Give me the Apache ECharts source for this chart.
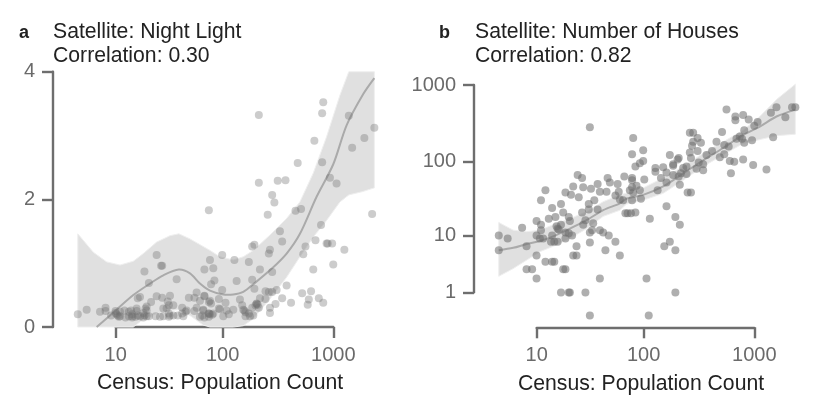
<!DOCTYPE html>
<html>
<head>
<meta charset="utf-8">
<script src="https://cdn.jsdelivr.net/npm/echarts@6/dist/echarts.min.js"></script>
<style>
  html, body { margin: 0; padding: 0; background: #fff; }
  #chart { width: 830px; height: 415px; }
</style>
</head>
<body>
<div id="chart"></div>
<script>
// both census axes and the houses axis are log10(1 + value), values below are already in those units
const xTickLabels = [10, 100, 1000];
const yTicksA = [0, 2, 4];
const yTickLabelsB = [1, 10, 100, 1000];

// panel a: night light vs population
const logPopA = [
  .70,.78,.90,.95,.95,1.00,1.04,1.04,1.06,1.08,1.12,1.16,1.18,1.19,1.23,1.24,1.26,1.31,1.32,1.30,1.34,1.36,1.24,1.26,1.34,1.30,1.41,1.45,1.46,1.59,
  1.41,1.46,1.53,1.51,1.56,1.47,1.50,1.64,1.47,1.53,1.56,1.60,1.65,1.67,1.70,1.75,1.77,1.84,1.80,1.77,1.75,1.83,1.80,1.88,1.88,1.90,1.84,1.89,1.88,
  2.33,2.91,2.90,3.14,3.37,2.83,3.28,3.17,2.68,2.90,2.33,2.50,2.57,2.97,3.03,2.45,2.47,2.66,2.71,2.41,3.35,2.89,2.52,2.54,2.84,2.94,2.95,2.99,2.29,2.27,
  2.75,2.43,2.42,2.73,3.10,2.00,2.11,2.24,3.00,2.82,2.34,2.45,1.92,2.13,2.27,1.93,2.58,2.29,2.00,2.39,2.42,2.45,2.49,2.72,2.80,2.54,2.87,2.78,2.77,2.91,
  2.62,2.48,2.34,2.16,2.03,1.97,1.84,1.89,1.90,2.18,2.31,2.30,2.33,2.27,2.43,2.43,2.10,2.04,1.97,2.20,2.21,2.24,2.21,2.28,2.06,2.01,1.92,1.89,1.83,1.82,2.39,
  1.07,1.13,1.19,1.22,1.29,1.32,1.40,1.44,1.52,1.08,1.16,1.23,1.32,1.05,1.19,1.29,1.52,1.68,1.64,1.52,1.84,1.88,1.88,1.91,1.98,2.19,2.25,2.31,2.32
];
const lightA = [
  .20,.27,.24,.30,.25,.18,.25,.22,.18,.17,.26,.17,.26,.17,.29,.18,.17,.29,.32,.18,.17,.39,.45,.47,.69,.87,1.13,.96,.96,.75,
  .48,.46,.49,.40,.34,.29,.29,.30,.17,.18,.18,.18,.17,.24,.46,.46,.54,.48,.41,.30,.25,.26,.16,.21,.39,.67,.90,1.05,1.83,
  3.32,3.52,3.35,3.31,3.12,2.92,2.96,2.81,2.57,2.58,2.26,2.29,2.30,2.34,2.25,2.07,1.95,1.82,1.85,1.76,1.77,1.60,1.50,1.34,1.36,1.31,1.31,1.31,1.29,1.26,
  1.26,1.21,1.15,1.14,1.21,1.13,1.05,1.02,.98,.90,.90,.86,.92,.72,.74,.73,.65,.60,.58,.56,.55,.55,.58,.53,.56,.45,.45,.43,.35,.38,
  .38,.36,.45,.43,.38,.44,.49,.41,.37,.34,.37,.34,.30,.30,.30,.22,.27,.26,.29,.26,.23,.21,.17,.18,.20,.17,.21,.20,.27,.18,.44,
  .16,.15,.15,.16,.15,.17,.17,.16,.16,.24,.24,.25,.26,.20,.20,.22,.21,.26,.21,.34,.15,.16,.21,.19,.28,.27,.17,.36,.35
];
const bandXA = [.70,.84,.96,1.08,1.20,1.29,1.41,1.53,1.61,1.71,1.83,1.89,1.98,2.10,2.19,2.28,2.43,2.58,2.70,2.82,2.94,3.06,3.14,3.26,3.37];
const bandLowA = [0,0,0,0,0,.12,.21,.26,.27,.18,.03,0,0,0,.02,.13,.44,.78,1.10,1.41,1.67,1.96,2.07,2.12,2.18];
const bandHighA = [1.46,1.17,1.02,.97,1.03,1.15,1.33,1.43,1.46,1.38,1.26,1.20,1.10,1.05,1.10,1.20,1.44,1.70,1.96,2.41,2.98,3.63,4,4,4];
const fitXA = [.87,.99,1.20,1.35,1.47,1.61,1.71,1.80,1.89,2.01,2.10,2.19,2.28,2.45,2.58,2.70,2.85,3.00,3.12,3.27,3.37];
const fitYA = [0,.18,.50,.68,.81,.90,.84,.68,.57,.51,.51,.55,.67,.92,1.15,1.46,2.04,2.55,3.16,3.65,3.90];

// panel b: number of houses vs population
const logPopB = [
  1.52,1.41,1.45,1.12,1.08,1.30,1.35,1.37,1.46,1.53,1.59,1.61,1.67,1.68,1.70,1.77,1.42,1.56,1.75,1.78,1.79,1.26,1.18,1.51,1.51,1.45,1.59,1.28,1.21,1.15,
  1.33,1.34,1.04,1.08,.91,1.08,1.23,1.26,1.46,1.55,1.48,.70,.78,1.04,1.07,1.10,1.18,1.17,1.20,1.23,1.30,1.30,1.33,1.36,1.52,1.54,1.61,1.64,1.69,1.52,
  1.75,1.40,.95,.70,1.04,1.37,1.40,1.66,1.79,1.12,1.18,1.20,.95,1.00,1.28,1.30,1.04,1.61,1.26,1.33,1.34,1.48,1.52,1.24,1.22,
  2.75,2.83,2.83,2.90,2.95,3.03,3.00,3.15,3.20,3.28,3.34,3.37,3.17,2.71,2.42,2.45,2.49,2.52,2.45,2.44,2.66,2.73,2.77,2.84,2.87,2.91,2.89,2.91,2.98,2.49,
  2.42,2.43,2.57,2.62,2.69,2.73,2.78,2.82,2.90,2.99,3.11,2.79,1.91,1.90,2.00,2.00,1.97,1.93,2.24,2.32,2.31,2.27,2.27,2.18,2.11,2.11,2.39,2.36,2.50,2.54,
  2.54,2.48,2.21,2.16,2.01,1.83,1.90,1.90,2.34,2.27,2.39,2.32,2.21,2.33,2.13,1.97,1.94,1.90,1.88,1.91,1.82,1.90,1.98,2.40,2.43,2.21,1.84,1.86,1.89,1.93,
  2.06,2.29,2.33,2.19,2.24,2.29,2.03,2.29,2.05
];
const logHousesB = [
  2.45,1.83,1.79,1.63,1.50,1.60,1.57,1.68,1.67,1.65,1.71,1.61,1.61,1.79,1.73,1.71,1.54,1.50,1.56,1.61,1.51,1.45,1.40,1.45,1.38,1.34,1.38,1.34,1.28,1.26,
  1.28,1.23,1.23,1.18,1.14,1.11,1.13,1.18,1.18,1.20,1.24,1.04,1.00,1.04,1.00,1.00,1.04,.96,.96,.96,1.00,1.08,1.07,1.04,1.08,1.11,1.11,1.08,1.04,.95,
  .96,.90,.90,.85,.78,.78,.78,.85,.78,.70,.70,.70,.60,.60,.60,.60,.48,.48,.30,.30,.30,.30,0,1.12,1.16,
  2.68,2.59,2.54,2.61,2.55,2.52,2.47,2.64,2.71,2.58,2.71,2.71,2.32,2.39,2.38,2.38,2.31,2.25,2.26,2.21,2.26,2.22,2.20,2.30,2.33,2.41,2.30,2.25,2.28,2.14,
  2.12,2.05,2.09,2.14,2.06,2.10,2.01,2.00,2.03,1.96,1.90,1.85,2.31,2.10,2.15,2.01,1.98,1.94,2.09,2.05,2.03,1.97,1.95,1.93,1.92,1.87,1.94,1.92,1.99,1.97,
  1.89,1.91,1.86,1.79,1.77,1.81,1.79,1.76,1.85,1.83,1.84,1.81,1.73,1.70,1.63,1.63,1.69,1.67,1.63,1.60,1.50,1.50,1.52,1.60,1.60,1.42,1.33,1.33,1.33,1.34,
  1.26,1.28,1.18,.90,.96,.85,.48,.30,0
];
const bandXB = [.70,.83,.95,1.07,1.19,1.34,1.49,1.64,1.79,1.85,2.00,2.18,2.36,2.54,2.72,2.90,3.05,3.20,3.37];
const bandLowB = [.51,.61,.72,.83,.90,1.00,1.13,1.29,1.37,1.45,1.50,1.59,1.76,1.94,2.09,2.24,2.29,2.34,2.36];
const bandHighB = [1.21,1.11,1.09,1.11,1.18,1.26,1.35,1.48,1.57,1.59,1.66,1.79,1.94,2.11,2.26,2.41,2.59,2.81,3.01];
const fitYB = [.85,.88,.93,.97,1.03,1.13,1.24,1.37,1.46,1.52,1.57,1.68,1.85,2.02,2.18,2.35,2.46,2.59,2.68];

const log1p = v => Math.log10(v + 1);
const zip = (a, b) => a.map((v, i) => [v, b[i]]);
const axisColor = '#6e6e6e';
const textColor = '#222222';
const font = '"Liberation Sans", Arial, sans-serif';

function bandSeries(idx, xs, low, high) {
  return {
    type: 'custom',
    xAxisIndex: idx,
    yAxisIndex: idx,
    silent: true,
    z: 1,
    data: xs.map((x, i) => [x, low[i], high[i]]),
    encode: { x: 0, y: [1, 2] },
    renderItem: function (params, api) {
      if (params.dataIndex !== 0) return null;
      const pts = [];
      xs.forEach((x, i) => pts.push(api.coord([x, high[i]])));
      for (let i = xs.length - 1; i >= 0; i--) pts.push(api.coord([xs[i], low[i]]));
      return {
        type: 'polygon',
        shape: { points: pts },
        style: { fill: '#e0e0e0', stroke: '#efefef', lineWidth: 1 }
      };
    }
  };
}

// line series gets cut at the grid edge, so the fit is a custom polyline
function fitSeries(idx, xs, ys) {
  return {
    type: 'custom',
    xAxisIndex: idx,
    yAxisIndex: idx,
    silent: true,
    z: 2,
    data: zip(xs, ys),
    encode: { x: 0, y: 1 },
    renderItem: function (params, api) {
      if (params.dataIndex !== 0) return null;
      return {
        type: 'polyline',
        shape: { points: xs.map((x, i) => api.coord([x, ys[i]])), smooth: 0.3 },
        style: { fill: null, stroke: '#aaaaaa', lineWidth: 2 }
      };
    }
  };
}

function pointSeries(idx, xs, ys, opacity) {
  return {
    type: 'scatter',
    xAxisIndex: idx,
    yAxisIndex: idx,
    data: zip(xs, ys),
    symbolSize: 8,
    clip: false,
    silent: true,
    z: 3,
    itemStyle: { color: '#6e6e6e', opacity: opacity }
  };
}

function xAxisFor(idx, offset, shift) {
  const ticks = xTickLabels.map(log1p);
  return {
    type: 'value',
    gridIndex: idx,
    min: ticks[0],
    max: ticks[2],
    offset: offset,
    name: 'Census: Population Count',
    nameLocation: 'middle',
    nameGap: 46,
    nameTextStyle: { color: textColor, fontSize: 21.2, fontFamily: font, padding: [0, shift, 0, 0] },
    axisLine: { onZero: false, lineStyle: { color: axisColor, width: 2.4 } },
    axisTick: { customValues: ticks, length: 11, lineStyle: { color: axisColor, width: 2.4 } },
    axisLabel: {
      customValues: ticks,
      margin: 18,
      color: '#6a6a6a',
      fontSize: 20,
      fontFamily: font,
      formatter: v => String(Math.round(Math.pow(10, v) - 1))
    },
    splitLine: { show: false }
  };
}

const yLabelStyle = { margin: 18, color: '#6a6a6a', fontSize: 20, fontFamily: font };
const yTicksB = yTickLabelsB.map(log1p);
const headStyle = { fontSize: 21.2, fontWeight: 'normal', lineHeight: 24, color: textColor, fontFamily: font };
const tagStyle = { fontSize: 18, fontWeight: 'bold', color: textColor, fontFamily: font };

const option = {
  animation: false,
  backgroundColor: '#ffffff',
  title: [
    { text: 'a', left: 14, top: 19, textStyle: tagStyle },
    { text: 'Satellite: Night Light\nCorrelation: 0.30', left: 48, top: 15, textStyle: headStyle },
    { text: 'b', left: 434, top: 19, textStyle: tagStyle },
    { text: 'Satellite: Number of Houses\nCorrelation: 0.82', left: 470, top: 15, textStyle: headStyle }
  ],
  grid: [
    { left: 115.7, top: 71.7, width: 217.6, height: 255.3 },
    { left: 536.7, top: 85, width: 217.6, height: 207.3 }
  ],
  xAxis: [xAxisFor(0, 0, 9), xAxisFor(1, 35, 9)],
  yAxis: [
    {
      type: 'value',
      gridIndex: 0,
      min: yTicksA[0],
      max: yTicksA[2],
      offset: 62.7,
      axisLine: { show: true, onZero: false, lineStyle: { color: axisColor, width: 2.4 } },
      axisTick: { show: true, customValues: yTicksA, length: 11, lineStyle: { color: axisColor, width: 2.4 } },
      axisLabel: Object.assign({ customValues: yTicksA }, yLabelStyle),
      splitLine: { show: false }
    },
    {
      type: 'value',
      gridIndex: 1,
      min: yTicksB[0],
      max: yTicksB[3],
      offset: 62.7,
      axisLine: { show: true, onZero: false, lineStyle: { color: axisColor, width: 2.4 } },
      axisTick: { show: true, customValues: yTicksB, length: 11, lineStyle: { color: axisColor, width: 2.4 } },
      axisLabel: Object.assign({
        customValues: yTicksB,
        formatter: v => String(Math.round(Math.pow(10, v) - 1))
      }, yLabelStyle),
      splitLine: { show: false }
    }
  ],
  series: [
    bandSeries(0, bandXA, bandLowA, bandHighA),
    fitSeries(0, fitXA, fitYA),
    pointSeries(0, logPopA, lightA, 0.35),
    bandSeries(1, bandXB, bandLowB, bandHighB),
    fitSeries(1, bandXB, fitYB),
    pointSeries(1, logPopB, logHousesB, 0.55)
  ]
};

const chart = echarts.init(document.getElementById('chart'), null, { renderer: 'canvas' });
chart.setOption(option);
</script>
</body>
</html>
